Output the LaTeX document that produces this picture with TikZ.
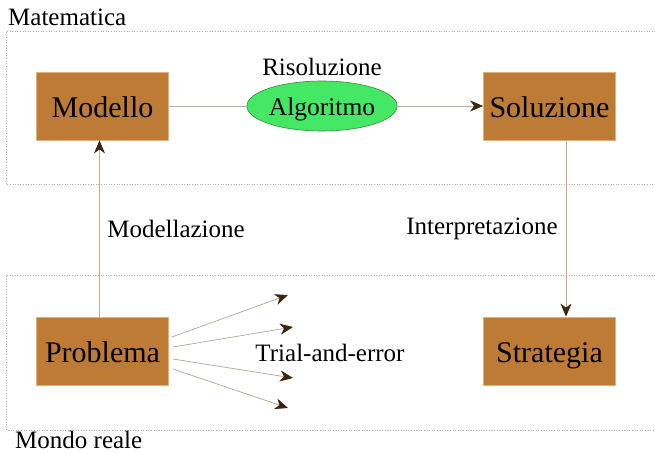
\documentclass[tikz,border=0pt]{standalone}
\usepackage{fontspec}
\setmainfont{Liberation Serif}
\usetikzlibrary{arrows.meta,shapes.geometric}
\definecolor{boxfill}{RGB}{190,123,53}
\definecolor{boxedge}{RGB}{222,178,120}
\definecolor{ellfill}{RGB}{68,232,100}
\definecolor{elledge}{RGB}{50,140,60}
\definecolor{linec}{RGB}{185,172,158}
\definecolor{tipc}{RGB}{60,38,12}
\definecolor{framec}{RGB}{175,175,175}
\tikzset{
  box/.style={draw=boxedge, line width=0.8pt, fill=boxfill, minimum width=132pt, minimum height=68pt, inner sep=0pt, text height=22pt, text depth=0pt, font=\fontsize{30}{30}\selectfont},
  algo/.style={ellipse, draw=elledge, line width=0.6pt, fill=ellfill, minimum width=130pt, minimum height=50pt, inner sep=0pt, text height=18pt, text depth=0pt, font=\fontsize{25.5}{25.5}\selectfont},
  lbl/.style={inner sep=0pt, font=\fontsize{25}{25}\selectfont},
  conn/.style={draw=linec, line width=0.8pt},
  arr/.style={conn, -{Stealth[length=13pt, width=11pt, inset=4pt, color=tipc]}},
  frame/.style={draw=framec, line width=0.6pt, dotted},
}
\begin{document}
\begin{tikzpicture}[x=1pt, y=-1pt]
\useasboundingbox (0,0) rectangle (655,453);
% frames
\draw[frame] (655,31) -- (6,31) -- (6,184) -- (655,184);
\draw[frame] (655,275) -- (6,275) -- (6,430) -- (655,430);
\node[lbl, anchor=base west] (mat) at (8,25) {Matematica};
\node[lbl, anchor=base west] (mon) at (15,448) {Mondo reale};
% nodes
\node[box] (mod) at (102.5,106) {Modello};
\node[box] (sol) at (549.5,106) {Soluzione};
\node[box] (pro) at (102.5,351) {Problema};
\node[box] (str) at (549.5,351) {Strategia};
\node[algo] (alg) at (322,106) {Algoritmo};
\node[lbl] (ris) at (322,67) {Risoluzione};
\node[lbl] (mdz) at (176,229) {Modellazione};
\node[lbl] (int) at (482,229) {Interpretazione};
\node[lbl] (tri) at (330,353) {Trial-and-error};
% connectors
\draw[conn] (mod.east) -- (alg.west);
\draw[arr] (alg.east) -- (sol.west);
\draw[arr] ([xshift=-3pt]pro.north) -- ([xshift=-3pt]mod.south);
\draw[arr] ([xshift=16.5pt]sol.south) -- ([xshift=16.5pt]str.north);
% trial and error fan
\coordinate (t1) at (288,295);
\coordinate (t2) at (293,327);
\coordinate (t3) at (293,378);
\coordinate (t4) at (288,408);
\draw[arr] ([xshift=3pt,yshift=14pt]pro.east) -- (t1);
\draw[arr] ([xshift=4pt,yshift=4pt]pro.east) -- (t2);
\draw[arr] ([xshift=4pt,yshift=-8pt]pro.east) -- (t3);
\draw[arr] ([xshift=4pt,yshift=-18pt]pro.east) -- (t4);
\end{tikzpicture}
\end{document}
